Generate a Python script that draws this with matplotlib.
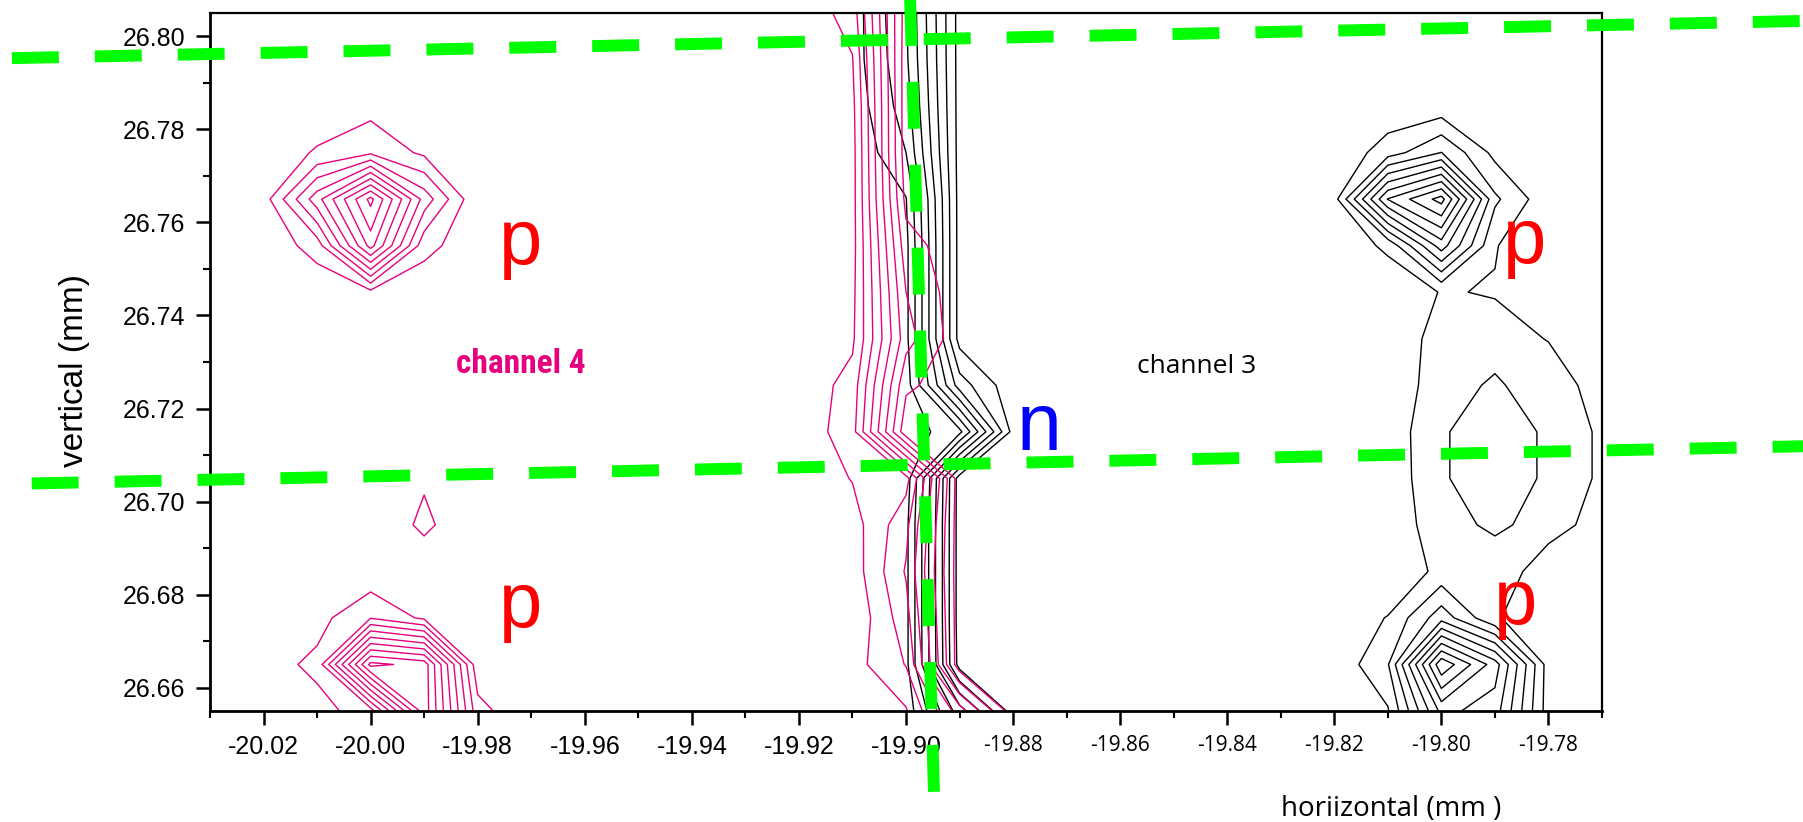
# -*- coding: utf-8 -*-
import numpy as np, matplotlib; matplotlib.use("Agg")
import matplotlib.pyplot as plt
from matplotlib import font_manager
from matplotlib.ticker import MultipleLocator

have = {f.name for f in font_manager.fontManager.ttflist}
def pick(*names):
    for n in names:
        if n in have: return n
    return "DejaVu Sans"
ARIAL = pick("Liberation Sans", "Arimo", "DejaVu Sans")
MYRIAD = pick("Open Sans", "Noto Sans", "DejaVu Sans")
NARROW = pick("Liberation Sans Narrow", "Roboto Condensed", "Open Sans Condensed", "Open Sans")
plt.rcParams.update({"font.family": ARIAL, "axes.unicode_minus": False,
                     "figure.facecolor": "white", "axes.facecolor": "white"})

# grid nodes (mm)
x_nodes = [-20.03, -20.02, -20.01, -20.00, -19.99, -19.98, -19.97, -19.96, -19.95,
           -19.94, -19.93, -19.92, -19.91, -19.90, -19.89, -19.88, -19.87, -19.86,
           -19.85, -19.84, -19.83, -19.82, -19.81, -19.80, -19.79, -19.78, -19.77]
y_nodes_top_down = [26.805, 26.795, 26.785, 26.775, 26.765, 26.755, 26.745, 26.735,
                    26.725, 26.715, 26.705, 26.695, 26.685, 26.675, 26.665, 26.655]
levels = [1, 2, 3, 4, 5, 6, 7, 8, 9]

# channel 4 (pink) signal, rows top -> bottom
ch4 = [
 [0.3]*11 + [0.3, 1.41, 8.5] + [8.6]*13,
 [0.3]*12 + [0.95, 8.6] + [8.6]*13,
 [0.3, 0.3, 0.4, 0.63, 0.4, 0.3, 0.3, 0.3, 0.3, 0.3, 0.3, 0.3, 0.7, 8.6] + [8.6]*13,
 [0.3, 0.4, 1.1, 1.8, 0.8, 0.3, 0.3, 0.3, 0.3, 0.3, 0.3, 0.3, 0.6, 8.6] + [8.6]*13,
 [0.3, 0.5, 4.6, 9.3, 3.6, 0.1, 0.3, 0.3, 0.3, 0.3, 0.3, 0.3, 0.6, 8.3, 8.6] + [8.6]*12,
 [0.3, 0.26, 1.44, 7.4, 1.3, 0.4, 0.3, 0.3, 0.3, 0.3, 0.3, 0.3, 0.6, 7.6, 8.6] + [8.6]*12,
 [0.3, 0.2, 0.29, 0.7, 0.4, 0.3, 0.3, 0.3, 0.3, 0.3, 0.3, 0.3, 0.7, 7.0, 8.6] + [8.6]*12,
 [0.3]*12 + [0.8, 6.6, 8.6] + [8.6]*12,
 [0.3]*12 + [1.39, 7.8, 8.6] + [8.6]*12,
 [0.3]*12 + [1.6, 8.7, 8.6] + [8.6]*12,
 [0.3, 0.3, 0.3, 0.3, 0.86, 0.3, 0.3, 0.3, 0.3, 0.3, 0.3, 0.3, 1.05, 1.6, 8.6] + [8.6]*12,
 [0.3, 0.3, 0.3, 0.05, 1.25, 0.05, 0.3, 0.3, 0.3, 0.3, 0.3, 0.3, 0.56, 2.7, 8.6] + [8.6]*12,
 [0.3, 0.3, 0.3, 0.25, 0.2, 0.3, 0.3, 0.3, 0.3, 0.3, 0.3, 0.3, 0.45, 3.1, 8.6] + [8.6]*12,
 [0.3, 0.3, 0.63, 1.95, 0.8, 0.3, 0.3, 0.3, 0.3, 0.3, 0.3, 0.3, 0.18, 2.6, 8.6] + [8.6]*12,
 [0.3, 0.55, 1.25, 9.3, 8.6, 0.3, 0.3, 0.3, 0.3, 0.3, 0.3, 0.3, 0.6, 2.05, 8.6] + [8.6]*12,
 [0.3, 0.3, 0.64, 1.5, 8.6, 1.38, 0.07, 0.3, 0.3, 0.3, 0.3, 0.3, 0.4, 0.9, 4.5] + [8.6]*12,
]
# channel 3 (black) signal, rows top -> bottom
ch3 = [
 [8.6]*12 + [8.5, 6.07, 0.6] + [0.3]*12,
 [8.6]*12 + [8.5, 6.2, 0.6] + [0.3]*12,
 [8.6]*12 + [8.64, 6.5, 0.6] + [0.3]*8 + [0.34, 0.3, 0.3, 0.3],
 [8.6]*12 + [8.9, 7.0, 0.6] + [0.3, 0.3, 0.3, 0.3, 0.3, 0.3, 0.2, 1.5, 3.02, 0.7, 0.3, 0.3],
 [8.6]*12 + [8.6, 8.05, 0.6] + [0.3, 0.3, 0.3, 0.3, 0.3, 0.3, 0.6, 7.05, 9.4, 2.2, 0.3, 0.3],
 [8.6]*12 + [8.6, 8.3, 0.6] + [0.3, 0.3, 0.3, 0.3, 0.3, 0.3, 0.3, 1.2, 5.5, 1.05, 0.3, 0.3],
 [8.6]*12 + [8.6, 8.3, 0.6] + [0.3]*8 + [1.05, 0.95, 0.3, 0.3],
 [8.6]*12 + [8.6, 8.3, 0.6] + [0.3]*8 + [1.4, 1.3, 0.97, 0.3],
 [8.6]*12 + [8.6, 8.5, 2.5] + [0.3]*7 + [0.6, 1.3, 0.9, 1.4, 0.67],
 [8.6]*12 + [8.6, 8.6, 7.3] + [0.6, 0.3, 0.3, 0.3, 0.3, 0.3, 0.3] + [0.89, 1.15, 0.2, 1.22, 0.95],
 [8.6]*12 + [8.6, 8.6, 0.5] + [0.3]*7 + [0.88, 1.15, 0.2, 1.22, 0.95],
 [8.6]*12 + [8.6, 8.3, 0.5] + [0.3]*7 + [0.65, 1.3, 0.85, 1.3, 0.71],
 [8.6]*12 + [8.6, 8.3, 0.5] + [0.3]*7 + [0.1, 1.3, 1.48, 0.56, 0.3],
 [8.6]*12 + [8.6, 8.3, 0.5] + [0.3]*7 + [1.05, 3.6, 1.1, 0.3, 0.3],
 [8.6]*12 + [8.6, 8.3, 0.6] + [0.3]*6 + [0.24, 1.9, 9.8, 6.5, 0.5, 0.3],
 [8.6]*12 + [8.6, 8.6, 4.5] + [0.5, 0.3, 0.3, 0.3, 0.3, 0.3] + [0.2, 0.9, 6.3, 5.5, 0.5, 0.3],
]

x_major = [-20.02, -20.00, -19.98, -19.96, -19.94, -19.92, -19.90,
           -19.88, -19.86, -19.84, -19.82, -19.80, -19.78]
x_labels = ["-20.02", "-20.00", "-19.98", "-19.96", "-19.94", "-19.92", "-19.90",
            "-19.88", "-19.86", "-19.84", "-19.82", "-19.80", "-19.78"]
y_major = [26.66, 26.68, 26.70, 26.72, 26.74, 26.76, 26.78, 26.80]
y_labels = ["26.66", "26.68", "26.70", "26.72", "26.74", "26.76", "26.78", "26.80"]

# marker letters: p = peak, n = notch
letters = ["p", "p", "p", "p", "n"]
letter_x = [-19.9719, -19.9719, -19.7844, -19.7861, -19.8752]
letter_y = [26.7510, 26.6731, 26.7512, 26.6738, 26.7110]
letter_c = ["#ff0000", "#ff0000", "#ff0000", "#ff0000", "#0000ff"]

# green guide lines (start, end)
guide_x = [[-20.067, -19.7322], [-20.0633, -19.7322], [-19.8993, -19.8946]]
guide_y = [[26.7953, 26.8033], [26.7039, 26.7119], [26.8105, 26.6310]]

PINK = "#e6007e"
fig = plt.figure(figsize=(18.03, 8.22), dpi=100)
ax = fig.add_axes([210/1803, 1-711/822, (1602-210)/1803, (711-13)/822])
Y = y_nodes_top_down[::-1]
ax.contour(x_nodes, Y, np.array(ch3)[::-1], levels=levels, colors="black", linewidths=1.0)
ax.contour(x_nodes, Y, np.array(ch4)[::-1], levels=levels, colors=PINK, linewidths=1.0)
ax.set_xlim(-20.03, -19.77); ax.set_ylim(26.655, 26.805)

ax.set_xticks(x_major); ax.set_xticklabels(x_labels)
ax.set_yticks(y_major); ax.set_yticklabels(y_labels)
ax.xaxis.set_minor_locator(MultipleLocator(0.01))
ax.yaxis.set_minor_locator(MultipleLocator(0.01))
ax.tick_params(which="major", direction="out", length=10, width=1.8, labelsize=18)
ax.tick_params(axis="x", which="major", pad=7)
ax.tick_params(axis="y", which="major", pad=8)
ax.tick_params(which="minor", direction="out", length=5, width=1.5)
for t, v in zip(ax.get_xticklabels(), x_major):
    if v > -19.89:
        t.set_fontfamily(MYRIAD); t.set_fontsize(15)
for s in ["left", "bottom"]: ax.spines[s].set_linewidth(2.0)
for s in ["top", "right"]: ax.spines[s].set_linewidth(1.6)

for s, x, y, c in zip(letters, letter_x, letter_y, letter_c):
    ax.text(x, y, s, color=c, fontsize=56 if s == "p" else 58, ha="center", va="baseline", zorder=6)
ax.text(-19.972, 26.7295, "channel 4", color=PINK, fontsize=24, fontweight="bold",
        family=NARROW, ha="center", va="center")
ax.text(-19.8457, 26.729, "channel 3", color="black", fontsize=19, family=MYRIAD,
        ha="center", va="center")

lw = 8.6
for gx, gy in zip(guide_x, guide_y):
    ax.plot(gx, gy, color="#00ff00", lw=lw, ls=(0, (33.8/lw, 25.9/lw)),
            solid_capstyle="butt", clip_on=False, zorder=10)

fig.text(75/1803, 1-370/822, "vertical (mm)", rotation=90, fontsize=24, ha="center", va="center")
fig.text(1391/1803, 1-816/822, "horiizontal (mm )", fontsize=20, family=MYRIAD, ha="center", va="baseline")
fig.savefig("out.png", dpi=100)
